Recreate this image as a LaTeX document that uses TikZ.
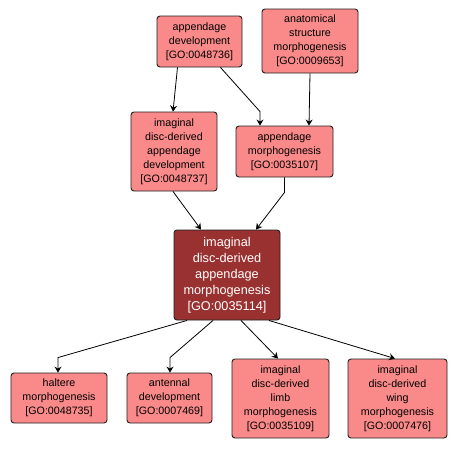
\documentclass[tikz,border=0pt]{standalone}
\usepackage{fontspec}
\setmainfont{Liberation Sans}
\usetikzlibrary{arrows.meta}
\definecolor{salmon}{HTML}{FA8A8A}
\definecolor{darkred}{HTML}{993131}
\definecolor{edgeline}{HTML}{202020}
\begin{document}
\begin{tikzpicture}[x=1pt,y=-1pt,
  term/.style={draw=edgeline,line width=0.9pt,fill=salmon,rounded corners=3pt,align=center,
    inner sep=0pt,font=\fontsize{10.7}{14}\selectfont,text=black},
  focus/.style={term,fill=darkred,text=white,font=\fontsize{12.7}{16}\selectfont},
  link/.style={draw=black,line width=0.8pt,-{Stealth[length=6pt,width=7pt,inset=2pt]}}]
\useasboundingbox (0,0) rectangle (457,448);
\fill[white] (0,0) rectangle (457,448);
\node[term,minimum width=85pt,minimum height=51pt] (ad) at (199.5,41.5) {appendage\\development\\{[GO:0048736]}};
\node[term,minimum width=96pt,minimum height=64pt] (asm) at (310,41) {anatomical\\structure\\morphogenesis\\{[GO:0009653]}};
\node[term,minimum width=86pt,minimum height=79pt] (idad) at (174,151.5) {imaginal\\disc-derived\\appendage\\development\\{[GO:0048737]}};
\node[term,minimum width=97pt,minimum height=51pt] (am) at (284.5,151.5) {appendage\\morphogenesis\\{[GO:0035107]}};
\node[focus,minimum width=106pt,minimum height=90pt] (c) at (227,275) {imaginal\\disc-derived\\appendage\\morphogenesis\\{[GO:0035114]}};
\node[term,minimum width=96pt,minimum height=50pt] (h) at (59,398) {haltere\\morphogenesis\\{[GO:0048735]}};
\node[term,minimum width=85pt,minimum height=50pt] (an) at (169.5,398) {antennal\\development\\{[GO:0007469]}};
\node[term,minimum width=97pt,minimum height=79pt] (l) at (280.5,398.5) {imaginal\\disc-derived\\limb\\morphogenesis\\{[GO:0035109]}};
\node[term,minimum width=99pt,minimum height=79pt] (w) at (397.5,398.5) {imaginal\\disc-derived\\wing\\morphogenesis\\{[GO:0007476]}};
% edges
\draw[link] ([xshift=-22pt]ad.south) -- ([xshift=-1pt]idad.north);
\draw[link] ([xshift=21pt]ad.south) -- ([xshift=-24.5pt,yshift=14pt]am.north) -- ([xshift=-24.5pt]am.north);
\draw[link] (asm.south) -- ([xshift=24.5pt]am.north);
\draw[link] ([xshift=-1pt]idad.south) -- ([xshift=-26pt]c.north);
\draw[link] (am.south) -- ([yshift=-15pt]am.south) -- ([xshift=29pt]c.north);
\draw[link] ([xshift=-40pt]c.south) -- ([xshift=-1pt,yshift=15pt]h.north) -- ([xshift=-1pt]h.north);
\draw[link] ([xshift=-14pt]c.south) -- ([xshift=0.5pt,yshift=15pt]an.north) -- ([xshift=0.5pt]an.north);
\draw[link] ([xshift=14pt]c.south) -- ([xshift=-2.5pt]l.north);
\draw[link] ([xshift=42pt]c.south) -- ([xshift=-2.5pt]w.north);
\end{tikzpicture}
\end{document}
